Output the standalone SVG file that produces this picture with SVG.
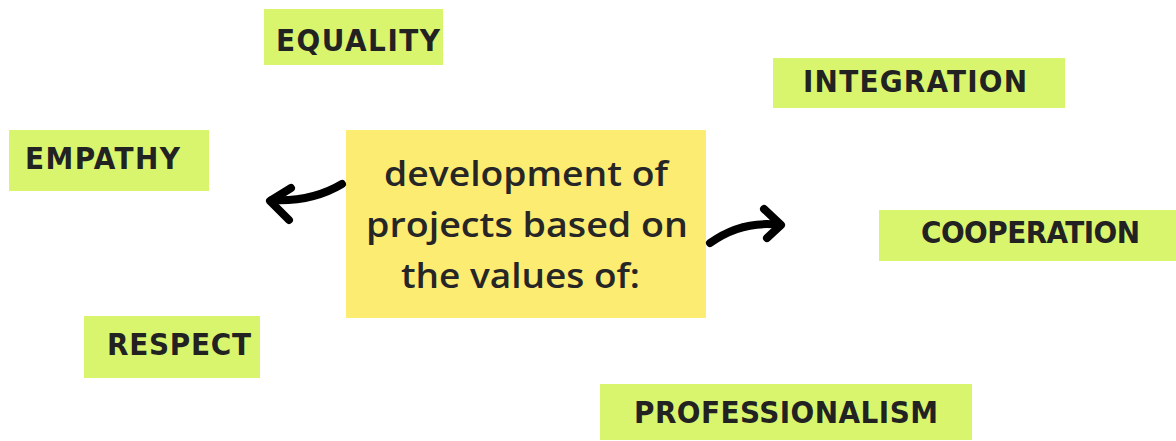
<svg xmlns="http://www.w3.org/2000/svg" width="1176" height="441" viewBox="0 0 1176 441">
<style>
.tag{fill:#D9F56E}
.lbl{font-family:"DejaVu Sans Condensed","Liberation Sans Narrow","Liberation Sans",sans-serif;font-weight:bold;font-size:31px;fill:#222}
.ctr{fill:#FDEC72}
.ct{font-family:"Open Sans",Lato,sans-serif;font-weight:600;font-size:34px;fill:#262626}
.arr{fill:none;stroke:#000;stroke-width:8;stroke-linecap:round;stroke-linejoin:round}
</style>
<rect width="1176" height="441" fill="#fff"/>
<g id="equality"><rect class="tag" x="264" y="9" width="179" height="56"/><text class="lbl" x="276" y="51" textLength="164" lengthAdjust="spacing">EQUALITY</text></g>
<g id="integration"><rect class="tag" x="773" y="58" width="292" height="50"/><text class="lbl" x="803" y="92" textLength="224" lengthAdjust="spacing">INTEGRATION</text></g>
<g id="empathy"><rect class="tag" x="9" y="130" width="200" height="61"/><text class="lbl" x="25" y="169" textLength="155" lengthAdjust="spacing">EMPATHY</text></g>
<g id="center"><rect class="ctr" x="346" y="130" width="360" height="188"/>
<text class="ct" x="384" y="186" textLength="284" lengthAdjust="spacingAndGlyphs">development of</text>
<text class="ct" x="366" y="237" textLength="322" lengthAdjust="spacingAndGlyphs">projects based on</text>
<text class="ct" x="401" y="288" textLength="239" lengthAdjust="spacingAndGlyphs">the values of:</text></g>
<g id="cooperation"><rect class="tag" x="879" y="210" width="297" height="51"/><text class="lbl" x="921" y="243" textLength="219" lengthAdjust="spacing">COOPERATION</text></g>
<g id="respect"><rect class="tag" x="84" y="316" width="176" height="62"/><text class="lbl" x="107" y="355" textLength="144" lengthAdjust="spacing">RESPECT</text></g>
<g id="professionalism"><rect class="tag" x="600" y="384" width="372" height="56"/><text class="lbl" x="634" y="423" textLength="304" lengthAdjust="spacing">PROFESSIONALISM</text></g>
<g id="connectors">
<path class="arr" d="M342,184 Q312,202 272,200"/>
<path class="arr" d="M291,188 L270,201 L289,220"/>
<path class="arr" d="M710,243 Q742,220 780,225"/>
<path class="arr" d="M764,209 L781,225 L767,238"/>
</g>
</svg>
